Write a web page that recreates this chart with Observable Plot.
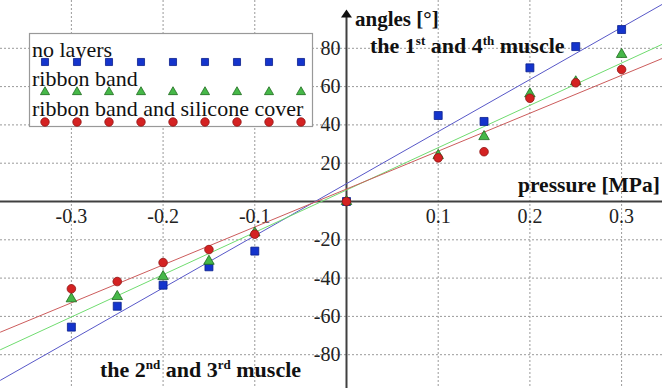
<!DOCTYPE html>
<html><head><meta charset="utf-8">
<script src="https://cdn.jsdelivr.net/npm/d3@7"></script>
<script src="https://cdn.jsdelivr.net/npm/@observablehq/plot@0.6"></script>
<style>
body{margin:0;background:#fff;}
#chart{position:relative;width:662px;height:388px;overflow:hidden;}
</style>
</head><body><div id="chart"></div>
<script>
// ---- data ----
const pressure = [-0.3, -0.25, -0.2, -0.15, -0.1, 0, 0.1, 0.15, 0.2, 0.25, 0.3];
const noLayers = [-65.6, -54.7, -43.7, -34.1, -25.9, 0, 44.9, 41.8, 69.8, 80.9, 89.8];
const ribbonBand = [-50.8, -49.6, -39.2, -31.2, -16.4, 0, 24.0, 33.9, 56.2, 62.5, 76.8];
const ribbonSilicone = [-45.6, -41.8, -31.9, -25.1, -17.1, 0, 22.8, 26.0, 53.9, 62.0, 68.9];
const seriesNames = ["no layers", "ribbon band", "ribbon band and silicone cover"];
const fitSlope = [272, 221, 198];
const fitIntercept = [9.3, 6.0, 6.5];
const xTicks = [-0.3, -0.2, -0.1, 0.1, 0.2, 0.3];
const xTickLabels = ["-0.3", "-0.2", "-0.1", "0.1", "0.2", "0.3"];
const yTicks = [-80, -60, -40, -20, 20, 40, 60, 80];
const yTickLabels = ["-80", "-60", "-40", "-20", "20", "40", "60", "80"];
const xDomain = [-0.3773, 0.3446];
const yDomain = [-97.65, 104.96];
const yAxisTop = 100.3;

// ---- styles ----
const serif = "'Liberation Serif', 'Times New Roman', serif";
const markerFill = ["#1434cc", "#46b848", "#d42222"];
const markerStroke = ["#0b1f8c", "#1d6b1d", "#901414"];
const lineColor = ["#5858c8", "#70dc70", "#cc5c5c"];
const symbols = ["square", "triangle", "circle"];
const radii = [4.5, 3.9, 4.3];

const seriesValues = [noLayers, ribbonBand, ribbonSilicone];
const tables = seriesValues.map(vals => pressure.map((p, i) => ({p, a: vals[i]})));
const fits = fitSlope.map((m, i) => xDomain.map(x => ({p: x, a: m * x + fitIntercept[i]})));

const arrowHead = {
  draw(ctx, size) {
    ctx.moveTo(0, 0); ctx.lineTo(5.5, 8); ctx.lineTo(-5.5, 8); ctx.closePath();
  }
};

const marks = [
  Plot.ruleX(xTicks, {stroke: "#9a9a9a", strokeDasharray: "2,2", strokeWidth: 1}),
  Plot.ruleY(yTicks, {stroke: "#9a9a9a", strokeDasharray: "2,2", strokeWidth: 1}),
  Plot.ruleY([0], {stroke: "#404040", strokeWidth: 2}),
  Plot.ruleX([0], {y1: yDomain[0], y2: yAxisTop - 2, stroke: "#404040", strokeWidth: 2}),
  Plot.dot([0], {x: 0, y: yAxisTop, symbol: arrowHead, fill: "#111", stroke: "none", r: 5}),
  Plot.text(xTicks, {x: d => d, y: 0, text: (d, i) => xTickLabels[i], dy: 15, fontSize: 20, fill: "#222", fontFamily: serif}),
  Plot.text(yTicks, {x: 0, y: d => d, text: (d, i) => yTickLabels[i], dx: -6, textAnchor: "end", fontSize: 20, fill: "#222", fontFamily: serif})
];
fits.forEach((f, i) => marks.push(Plot.line(f, {x: "p", y: "a", stroke: lineColor[i], strokeWidth: 1})));
tables.forEach((t, i) => marks.push(Plot.dot(t, {x: "p", y: "a", symbol: symbols[i], r: radii[i], fill: markerFill[i], stroke: markerStroke[i], strokeWidth: 0.8})));

const svg = Plot.plot({
  width: 662, height: 388, margin: 0,
  x: {domain: xDomain, axis: null},
  y: {domain: yDomain, axis: null},
  style: {fontFamily: serif, background: "white", overflow: "hidden"},
  marks
});
document.getElementById("chart").appendChild(svg);

// ---- legend & annotations ----
const s = d3.select(svg);
const lg = s.append("g").attr("text-anchor", "start");
lg.append("rect").attr("x", 29.5).attr("y", 33.5).attr("width", 283).attr("height", 93)
  .attr("fill", "white").attr("stroke", "#999").attr("stroke-width", 1.2);
const d3sym = [d3.symbolSquare, d3.symbolTriangle, d3.symbolCircle];
const symSize = [50, 36, 56];
const textBase = [57, 86, 116];
const rowY = [62, 92, 122];
seriesNames.forEach((name, i) => {
  lg.append("text").attr("x", 32).attr("y", textBase[i]).attr("font-family", serif)
    .attr("font-size", 22).attr("fill", "#111").text(name);
  for (let k = 0; k < 9; k++) {
    lg.append("path").attr("d", d3.symbol(d3sym[i], symSize[i])())
      .attr("transform", `translate(${45 + 32 * k},${rowY[i]})`)
      .attr("fill", markerFill[i]).attr("stroke", markerStroke[i]).attr("stroke-width", 0.8);
  }
});

function label(x, y, parts, size) {
  const t = s.append("text").attr("x", x).attr("y", y).attr("font-family", serif)
    .attr("text-anchor", "start")
    .attr("font-weight", "bold").attr("font-size", size).attr("fill", "#111");
  let prevSup = false;
  parts.forEach(([txt, sup]) => {
    const ts = t.append("tspan").text(txt);
    if (sup) ts.attr("font-size", 13).attr("dy", -8);
    else if (prevSup) ts.attr("dy", 8);
    prevSup = !!sup;
  });
}
label(355, 26, [["angles [°]"]], 21);
label(370, 53, [["the 1"], ["st", 1], [" and 4"], ["th", 1], [" muscle"]], 22);
label(518, 192, [["pressure [MPa]"]], 21.5);
label(100, 377, [["the 2"], ["nd", 1], [" and 3"], ["rd", 1], [" muscle"]], 22);
</script>
</body></html>
